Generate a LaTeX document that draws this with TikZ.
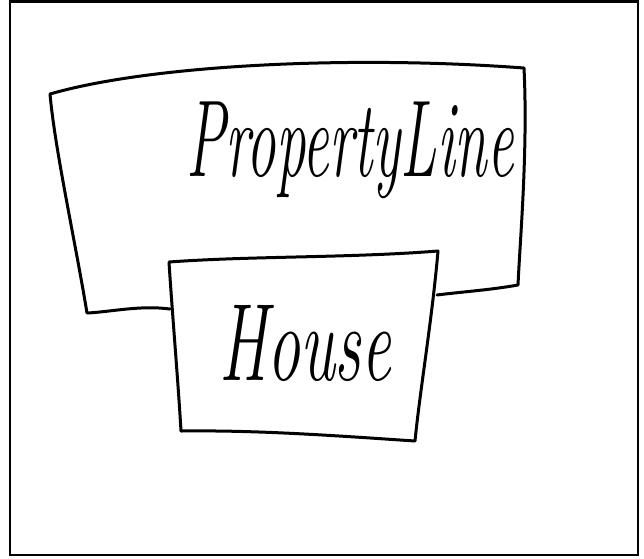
\documentclass[tikz,border=0pt]{standalone}
\tikzset{sketch/.style={line width=3pt,line join=round,line cap=round},
  hand/.style={font=\itshape}}
\begin{document}
\begin{tikzpicture}[x=1pt,y=-1pt]
\useasboundingbox (0,0) rectangle (644,558);
\draw[line width=2.2pt] (10,1.5) rectangle (638,555);
% property line
\draw[sketch] (170,309) .. controls (140,305) and (110,312) .. (87,313)
  .. controls (75,240) and (55,150) .. (50,94)
  .. controls (150,65) and (350,55) .. (524,68)
  .. controls (528,150) and (520,240) .. (518,285)
  .. controls (490,290) and (460,292) .. (437,295);
\node[hand] (plabel) at (350,150) {\scalebox{0.62}[1.15]{\fontsize{95}{95}\selectfont PropertyLine}};
% house
\draw[sketch] (169,262) .. controls (250,256) and (350,258) .. (438,251)
  .. controls (432,320) and (420,390) .. (415,441)
  .. controls (340,436) and (260,430) .. (181,431)
  .. controls (178,380) and (172,310) .. cycle;
\node[hand] (hlabel) at (305,343) {\scalebox{0.75}[1.25]{\fontsize{88}{88}\selectfont House}};
\end{tikzpicture}
\end{document}
